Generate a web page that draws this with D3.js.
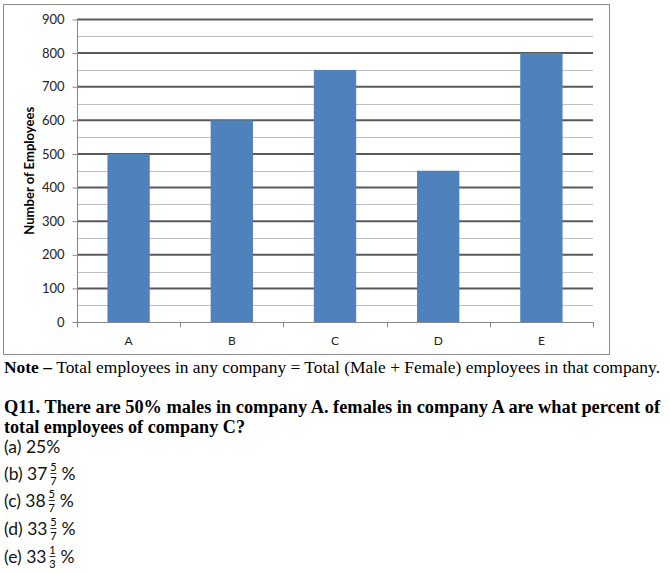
<!DOCTYPE html>
<html>
<head>
<meta charset="utf-8">
<script src="https://cdn.jsdelivr.net/npm/d3@7"></script>
<style>
html,body{margin:0;padding:0;background:#fff;}
svg{display:block;}
</style>
</head>
<body>
<svg id="chart" width="670" height="573"></svg>
<script>
const categories = ["A","B","C","D","E"];
const employees = [500, 600, 750, 450, 800];
const majorTicks = [0,100,200,300,400,500,600,700,800,900];
const minorTicks = [50,150,250,350,450,550,650,750,850];
const yLabel = "Number of Employees";
const options = [
  {label:"(a) 25%"},
  {label:"(b) 37", num:"5", den:"7"},
  {label:"(c) 38", num:"5", den:"7"},
  {label:"(d) 33", num:"5", den:"7"},
  {label:"(e) 33", num:"1", den:"3"}
];

(function(){
const svg = d3.select("#chart");
const sans = "Lato, 'Open Sans', sans-serif";
const serif = "'Liberation Serif', 'DejaVu Serif', serif";

// frame
svg.append("rect").attr("x",3.5).attr("y",4.5).attr("width",606).attr("height",350)
  .attr("fill","#fff").attr("stroke","#8c8c8c").attr("stroke-width",1);

const pLeft = 77, pRight = 593, pTop = 19.5, pBottom = 322;
const x = d3.scaleBand().domain(categories).range([pLeft,pRight]).paddingInner(0.59).paddingOuter(0.295);
const xb = d3.scaleBand().domain(categories).range([pLeft,pRight]);
const y = d3.scaleLinear().domain([0,900]).range([pBottom,pTop]);

// minor gridlines
svg.append("g").selectAll("line").data(minorTicks).join("line")
  .attr("x1",pLeft).attr("x2",pRight)
  .attr("y1",d=>Math.round(y(d))+0.5).attr("y2",d=>Math.round(y(d))+0.5)
  .attr("stroke","#bfbfbf").attr("stroke-width",1);
// major gridlines
svg.append("g").selectAll("line").data(majorTicks.filter(d=>d>0)).join("line")
  .attr("x1",pLeft).attr("x2",pRight)
  .attr("y1",d=>y(d)).attr("y2",d=>y(d))
  .attr("stroke","#595959").attr("stroke-width",2);

// bars
svg.append("g").selectAll("rect").data(employees).join("rect")
  .attr("x",(d,i)=>x(categories[i]))
  .attr("width",x.bandwidth())
  .attr("y",d=>y(d))
  .attr("height",d=>y(0)-y(d))
  .attr("fill","#4f81bd");

// y axis
const yAxis = d3.axisLeft(y).tickValues(majorTicks).tickSize(5).tickPadding(8);
const gy = svg.append("g").attr("transform",`translate(${pLeft+0.5},0)`).call(yAxis);
gy.select(".domain").attr("stroke","#868686").attr("d",`M0,${pTop}V${pBottom}`);
gy.selectAll(".tick line").attr("stroke","#868686");
gy.selectAll(".tick text").attr("font-family",sans).attr("font-size",13).attr("fill","#222");

// x axis
const gx = svg.append("g").attr("transform",`translate(0,${pBottom+0.5})`);
gx.append("line").attr("x1",pLeft).attr("x2",pRight+1).attr("stroke","#868686");
const bounds = categories.map(c=>xb(c)).concat([pRight]);
gx.selectAll("line.tk").data(bounds).join("line").attr("class","tk")
  .attr("x1",d=>Math.round(d)+0.5).attr("x2",d=>Math.round(d)+0.5)
  .attr("y1",0).attr("y2",5).attr("stroke","#868686");
gx.selectAll("text").data(categories).join("text")
  .attr("x",d=>xb(d)+xb.bandwidth()/2).attr("y",22)
  .attr("text-anchor","middle").attr("font-family",sans).attr("font-size",12).attr("fill","#222")
  .text(d=>d);

// y label
svg.append("text").attr("transform",`translate(34,${(pTop+pBottom)/2}) rotate(-90)`)
  .attr("text-anchor","middle").attr("font-family",sans).attr("font-size",13).attr("font-weight","bold")
  .attr("textLength",128).attr("lengthAdjust","spacingAndGlyphs")
  .text(yLabel);

// note
const note = svg.append("text").attr("x",4).attr("y",373).attr("font-family",serif).attr("font-size",17)
  .attr("textLength",656).attr("lengthAdjust","spacingAndGlyphs");
note.append("tspan").attr("font-weight","bold").text("Note \u2013 ");
note.append("tspan").text("Total employees in any company = Total (Male + Female) employees in that company.");

svg.append("text").attr("x",4).attr("y",413).attr("font-family",serif).attr("font-size",18).attr("font-weight","bold")
  .attr("textLength",656).attr("lengthAdjust","spacingAndGlyphs")
  .text("Q11. There are 50% males in company A. females in company A are what percent of");
svg.append("text").attr("x",4).attr("y",433).attr("font-family",serif).attr("font-size",18).attr("font-weight","bold")
  .attr("textLength",241).attr("lengthAdjust","spacingAndGlyphs")
  .text("total employees of company C?");

// options
const baselines = [453, 480, 507, 535, 563];
options.forEach((o,i)=>{
  const b = baselines[i];
  const t = svg.append("text").attr("x",4).attr("y",b).attr("font-family",sans).attr("font-size",17.5).attr("fill","#111").text(o.label);
  if(o.num){
    const w = t.node().getComputedTextLength();
    const fx = 4 + w + 6;
    svg.append("text").attr("x",fx).attr("y",b-9).attr("text-anchor","middle").attr("font-family",sans).attr("font-size",11).text(o.num);
    svg.append("line").attr("x1",fx-3).attr("x2",fx+3).attr("y1",b-6.5).attr("y2",b-6.5).attr("stroke","#333").attr("stroke-width",1);
    svg.append("text").attr("x",fx).attr("y",b+5).attr("text-anchor","middle").attr("font-family",sans).attr("font-size",11).text(o.den);
    svg.append("text").attr("x",fx+8).attr("y",b).attr("font-family",sans).attr("font-size",17.5).attr("fill","#111").text("%");
  }
});
})();
</script>
</body>
</html>
